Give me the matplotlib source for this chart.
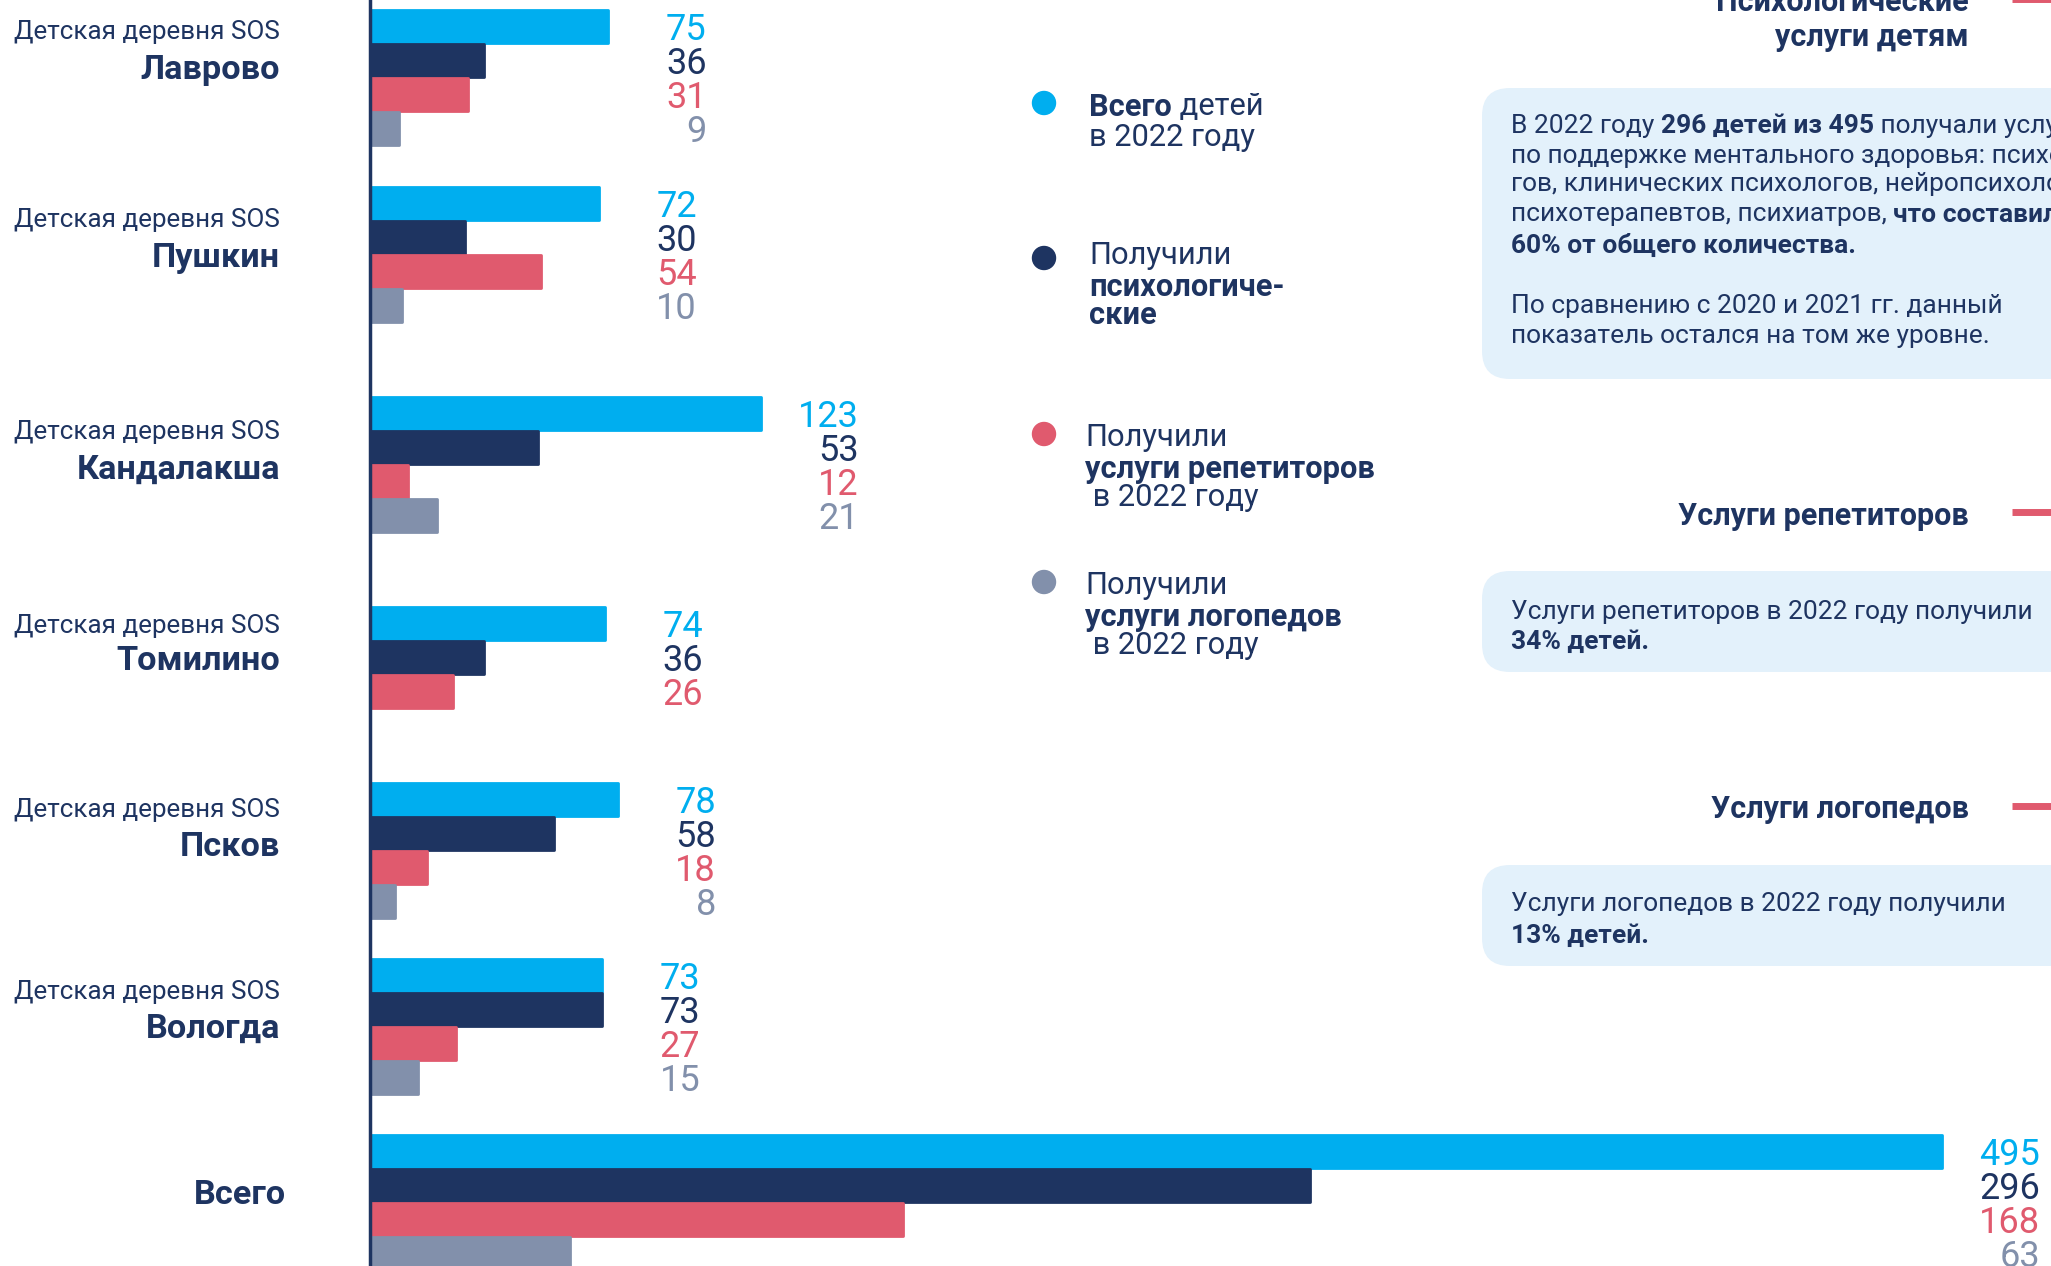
import matplotlib
matplotlib.use("Agg")
import matplotlib.pyplot as plt
from matplotlib.patches import FancyBboxPatch, Circle

plt.rcParams["font.family"] = ["Roboto", "DejaVu Sans"]

# --- data -----------------------------------------------------------------
villages = ["Лаврово", "Пушкин", "Кандалакша", "Томилино", "Псков", "Вологда", "Всего"]
total_children = [75, 72, 123, 74, 78, 73, 495]
psych_help = [36, 30, 53, 36, 58, 73, 296]
tutors = [31, 54, 12, 26, 18, 27, 168]
speech_therapy = [9, 10, 21, None, 8, 15, 63]

series = [total_children, psych_help, tutors, speech_therapy]
colors = ["#00AEEF", "#1E3461", "#E05A6E", "#8290AB"]

# --- layout (pixel coordinates of the 2051x1266 canvas) ---------------------
W, H = 2051, 1266
X0 = 370            # pixel position of the value axis origin
PX_PER_UNIT = 3.175
group_top = [9, 186, 396, 606, 782, 958, 1134]
BAR_H = 34
sub_y = [30, 218, 430, 623, 808, 989, None]
name_y = [66, 254, 466, 657, 843, 1025, 1192]
LABEL_PAD = 31

NAVY = "#1E3461"
BOX = "#E3F1FB"

fig = plt.figure(figsize=(W / 100, H / 100), dpi=100)
ax = fig.add_axes([0, 0, 1, 1])
ax.set_xlim(-X0 / PX_PER_UNIT, (W - X0) / PX_PER_UNIT)
ax.set_ylim(H, 0)
ax.axis("off")

ov = fig.add_axes([0, 0, 1, 1], zorder=2)
ov.set_xlim(0, W)
ov.set_ylim(H, 0)
ov.axis("off")
ov.patch.set_alpha(0)

# bars + values
for g, top in enumerate(group_top):
    vals = [s[g] for s in series]
    vmax = max(v for v in vals if v is not None)
    for k, v in enumerate(vals):
        if v is None:
            continue
        yc = top + BAR_H * (k + 0.5)
        ax.barh(yc, v, height=BAR_H - 1, left=0, color=colors[k], edgecolor=colors[k],
                linewidth=2, joinstyle="round", zorder=2)
        ax.text(vmax + LABEL_PAD, yc, str(v), ha="right", va="center_baseline",
                fontsize=26, fontweight="normal", color=colors[k])

ax.axvline(0, color=NAVY, lw=2.5, zorder=3)

# village labels
for g, name in enumerate(villages):
    if sub_y[g] is not None:
        ov.text(280, sub_y[g], "Детская деревня SOS", ha="right", va="center_baseline",
                fontsize=18.7, fontweight="normal", color=NAVY)
    ov.text(280 if sub_y[g] is not None else 286, name_y[g], name, ha="right",
            va="center_baseline", fontsize=24.7, fontweight="bold", color=NAVY)


def runs(x, y, parts, size, ha_first="left"):
    """Place a line made of (text, weight) pieces side by side."""
    prev = None
    for txt, wt in parts:
        if prev is None:
            prev = ov.text(x, y, txt, ha=ha_first, va="center_baseline", fontsize=size,
                           fontweight=wt, color=NAVY)
        else:
            prev = ov.annotate(txt, xy=(1.0, y), xycoords=(prev, "data"), ha="left",
                               va="center_baseline", fontsize=size, fontweight=wt,
                               color=NAVY, annotation_clip=False)


# legend
legend_items = [
    (1044, 103, colors[0], 1089, [(104, [("Всего", "bold"), (" детей", "normal")]),
                                  (135, [("в 2022 году", "normal")])]),
    (1044, 258, colors[1], 1089, [(252, [("Получили", "normal")]),
                                  (284, [("психологиче-", "bold")]),
                                  (312, [("ские", "bold")])]),
    (1044, 434, colors[2], 1085, [(435, [("Получили", "normal")]),
                                  (466, [("услуги репетиторов", "bold")]),
                                  (495, [(" в 2022 году", "normal")])]),
    (1044, 582, colors[3], 1085, [(583, [("Получили", "normal")]),
                                  (614, [("услуги логопедов", "bold")]),
                                  (643, [(" в 2022 году", "normal")])]),
]
for cx, cy, col, tx, lines in legend_items:
    ov.add_patch(Circle((cx, cy), 11.5, color=col, zorder=3))
    for ly, parts in lines:
        runs(tx, ly, parts, 22.2)

# right-hand headers with red marks
RED = colors[2]
headers = [([(-1, "Психологические"), (34, "услуги детям")], -1),
           ([(513, "Услуги репетиторов")], 512),
           ([(806, "Услуги логопедов")], 806)]
for lines, ry in headers:
    for ly, txt in lines:
        ov.text(1969, ly, txt, ha="right", va="center_baseline", fontsize=22,
                fontweight="bold", color=NAVY)
    ov.plot([2012, 2060], [ry, ry], color=RED, lw=5, solid_capstyle="butt", clip_on=False)

# info boxes
boxes = [
    (88, 379, [(123, [("В 2022 году ", "normal"), ("296 детей из 495", "bold"),
                      (" получали услуги", "normal")]),
               (153, [("по поддержке ментального здоровья: психоло-", "normal")]),
               (182, [("гов, клинических психологов, нейропсихологов,", "normal")]),
               (212, [("психотерапевтов, психиатров, ", "normal"), ("что составило", "bold")]),
               (243, [("60% от общего количества.", "bold")]),
               (303, [("По сравнению с 2020 и 2021 гг. данный", "normal")]),
               (333, [("показатель остался на том же уровне.", "normal")])]),
    (571, 672, [(609, [("Услуги репетиторов в 2022 году получили", "normal")]),
                (639, [("34% детей.", "bold")])]),
    (865, 966, [(902, [("Услуги логопедов в 2022 году получили", "normal")]),
                (933, [("13% детей.", "bold")])]),
]
for y0, y1, lines in boxes:
    ov.add_patch(FancyBboxPatch((1482 + 28, y0 + 28), 700, (y1 - y0) - 56,
                                boxstyle="round,pad=28", facecolor=BOX, edgecolor="none",
                                zorder=1))
    for ly, parts in lines:
        runs(1511, ly, parts, 19)

fig.savefig("out.png", dpi=100, facecolor="white")
